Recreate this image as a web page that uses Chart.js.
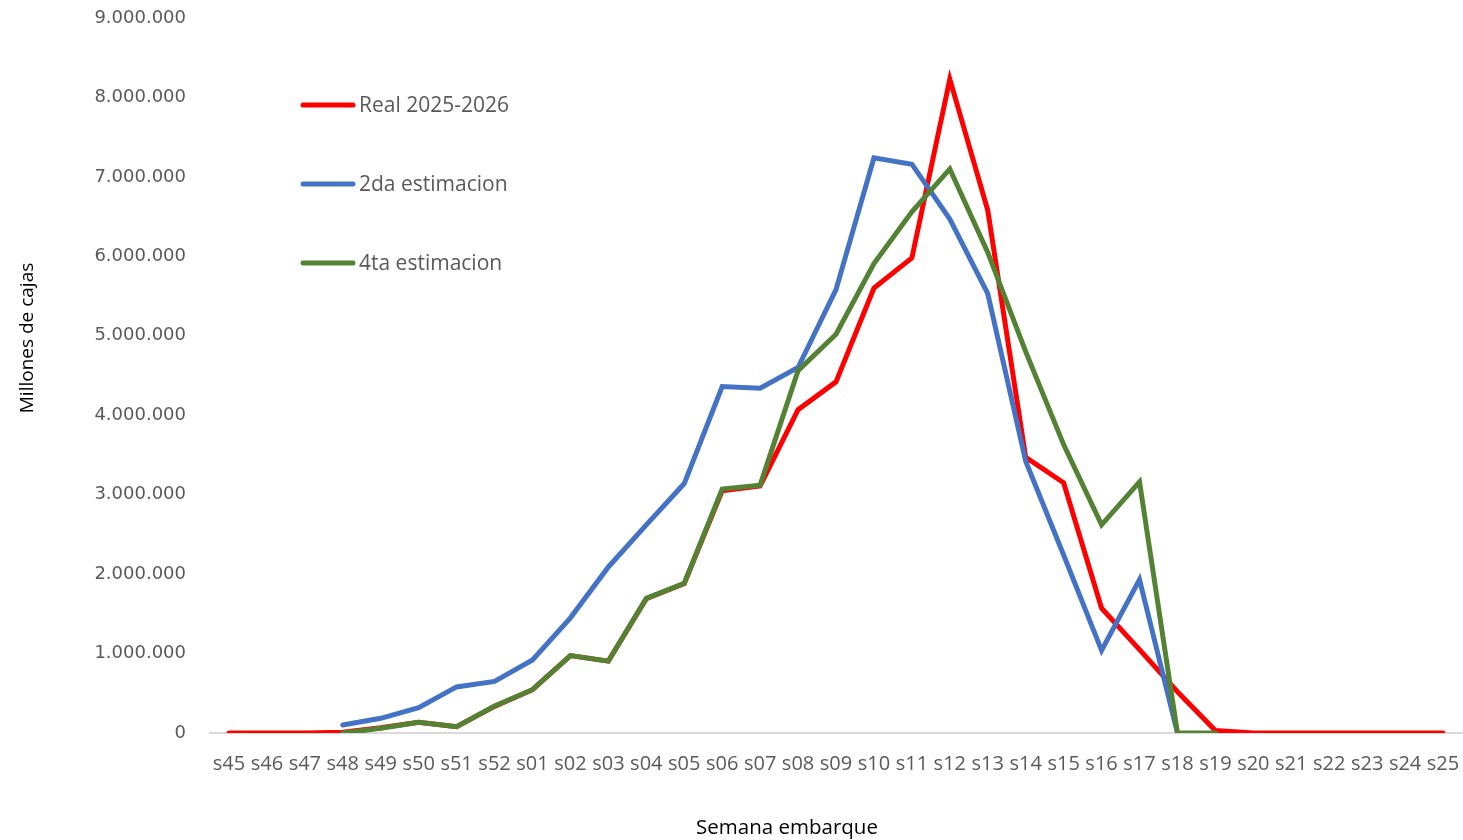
<!DOCTYPE html>
<html lang="es">
<head>
<meta charset="utf-8">
<title>Semana embarque</title>
<script src="https://cdn.jsdelivr.net/npm/chart.js@4.4.1/dist/chart.umd.min.js"></script>
<style>
  html, body { margin: 0; padding: 0; background: #ffffff; }
  #wrap { position: relative; width: 1463px; height: 840px; }
</style>
</head>
<body>
<div id="wrap"><canvas id="chart" width="1463" height="840"></canvas></div>
<script>
// ── Data ──────────────────────────────────────────────────────────────
const WEEKS = [
  's45', 's46', 's47', 's48', 's49', 's50', 's51', 's52',
  's01', 's02', 's03', 's04', 's05', 's06', 's07', 's08', 's09', 's10',
  's11', 's12', 's13', 's14', 's15', 's16', 's17', 's18', 's19', 's20',
  's21', 's22', 's23', 's24', 's25'
];

const REAL_2025_2026 = [
  0, 0, 0, 10000, 65000, 135000, 80000, 335000,
  545000, 975000, 905000, 1690000, 1880000, 3050000, 3110000, 4070000, 4420000, 5600000,
  5980000, 8230000, 6580000, 3470000, 3150000, 1570000, 1050000, 520000, 30000, 0,
  0, 0, 0, 0, 0
];

const EST_2DA = [
  null, null, null, 100000, 185000, 320000, 580000, 650000,
  920000, 1450000, 2090000, 2620000, 3140000, 4360000, 4340000, 4600000, 5580000, 7240000,
  7160000, 6470000, 5530000, 3420000, 2240000, 1040000, 1930000, 0, null, null,
  null, null, null, null, null
];

const EST_4TA = [
  null, null, null, 0, 60000, 135000, 80000, 340000,
  545000, 975000, 905000, 1695000, 1885000, 3070000, 3120000, 4560000, 5020000, 5910000,
  6560000, 7100000, 6050000, 4800000, 3630000, 2620000, 3160000, 0, 0, null,
  null, null, null, null, null
];

const SERIES_NAMES  = ['Real 2025-2026', '2da estimacion', '4ta estimacion'];
const SERIES_COLORS = ['#ff0000', '#4472c4', '#548235'];

const Y_MAX  = 9000000;
const Y_STEP = 1000000;

// ── Helpers ───────────────────────────────────────────────────────────

/** 9000000 → "9.000.000" */
function formatDots(v) {
  return String(Math.round(v)).replace(/\B(?=(\d{3})+(?!\d))/g, '.');
}

function lineDataset(label, data, color, order) {
  return {
    label,
    data,
    borderColor: color,
    backgroundColor: color,
    borderWidth: 5,
    borderCapStyle: 'round',
    borderJoinStyle: 'miter',
    pointRadius: 0,
    pointHoverRadius: 0,
    tension: 0,
    spanGaps: false,
    order,
  };
}

// ── Titles + legend drawn on the canvas ──────────────────────────────
const decorPlugin = {
  id: 'decor',
  afterDraw(chart) {
    const ctx = chart.ctx;
    ctx.save();

    // y title (rotated)
    ctx.fillStyle = '#000000';
    ctx.font = '19px "Open Sans"';
    ctx.textAlign = 'center';
    ctx.textBaseline = 'middle';
    ctx.translate(28, 338);
    ctx.rotate(-Math.PI / 2);
    ctx.fillText('Millones de cajas', 0, 0);
    ctx.setTransform(1, 0, 0, 1, 0, 0);

    // x title
    ctx.font = '20.5px "Open Sans"';
    ctx.fillText('Semana embarque', 787, 828);

    // legend
    ctx.font = '21px "Open Sans"';
    ctx.textAlign = 'left';
    ctx.lineCap = 'round';
    ctx.lineWidth = 5;
    SERIES_NAMES.forEach((name, i) => {
      const y = 105 + i * 79;
      ctx.strokeStyle = SERIES_COLORS[i];
      ctx.beginPath();
      ctx.moveTo(303, y);
      ctx.lineTo(353, y);
      ctx.stroke();
      ctx.fillStyle = '#595959';
      ctx.fillText(name, 359, y + 1);
    });

    ctx.restore();
  },
};

// ── Chart ─────────────────────────────────────────────────────────────
new Chart(document.getElementById('chart'), {
  type: 'line',
  data: {
    labels: WEEKS,
    datasets: [
      lineDataset(SERIES_NAMES[0], REAL_2025_2026, SERIES_COLORS[0], 2),
      lineDataset(SERIES_NAMES[1], EST_2DA,        SERIES_COLORS[1], 1),
      lineDataset(SERIES_NAMES[2], EST_4TA,        SERIES_COLORS[2], 0),
    ],
  },
  options: {
    responsive: false,
    animation: false,
    devicePixelRatio: 1,
    layout: { padding: { top: 18, right: 1, left: 0, bottom: 0 } },
    plugins: {
      legend: { display: false },
      tooltip: { enabled: false },
    },
    scales: {
      x: {
        offset: true,
        grid: { display: false, drawTicks: false },
        border: { display: true, color: '#d9d9d9', width: 2 },
        ticks: {
          autoSkip: false,
          maxRotation: 0,
          minRotation: 0,
          padding: 19,
          color: '#595959',
          font: { family: '"Open Sans"', size: 20 },
        },
        afterFit(scale) {
          scale.height = 107;
          scale.paddingLeft = 0;
          scale.paddingRight = 0;
        },
      },
      y: {
        min: 0,
        max: Y_MAX,
        grid: { display: false, drawTicks: false },
        border: { display: false },
        ticks: {
          stepSize: Y_STEP,
          padding: 24,
          color: '#595959',
          font: { family: '"DejaVu Sans"', size: 18 },
          callback: (v) => formatDots(v),
        },
        afterFit(scale) {
          scale.width = 210;
          scale.paddingTop = 0;
          scale.paddingBottom = 0;
        },
      },
    },
  },
  plugins: [decorPlugin],
});
</script>
</body>
</html>
